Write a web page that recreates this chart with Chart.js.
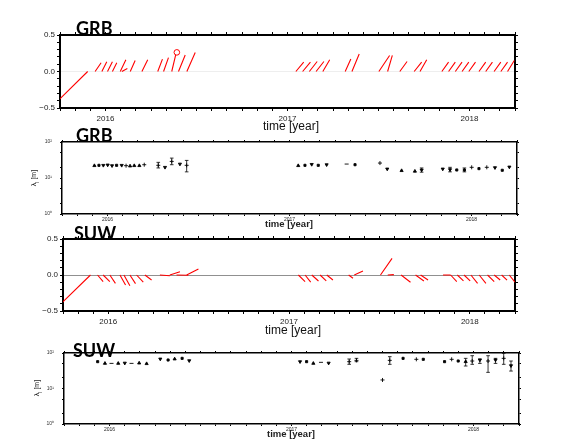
<!DOCTYPE html>
<html><head><meta charset="utf-8">
<script src="https://cdn.jsdelivr.net/npm/chart.js@4.4.1/dist/chart.umd.min.js"></script>
<style>
html,body{margin:0;padding:0;background:#fff;}
body{width:583px;height:446px;position:relative;overflow:hidden;font-family:"Liberation Sans",Arial,sans-serif;}
canvas{position:absolute;left:0;}
.title{position:absolute;font-family:Lato,"Open Sans","Noto Sans",sans-serif;font-weight:700;font-size:18px;line-height:1;color:#000;z-index:5;white-space:nowrap;}
.xt{position:absolute;font-size:12px;line-height:1;color:#111;z-index:5;white-space:nowrap;transform:translateX(-50%);}
.xs{position:absolute;font-size:9.5px;font-weight:700;line-height:1;color:#222;z-index:5;white-space:nowrap;transform:translateX(-50%);}
.yl{position:absolute;font-size:7px;line-height:1;color:#222;z-index:5;white-space:nowrap;transform:translate(-50%,-50%) rotate(-90deg);}
.yl sub{font-size:5px;}
</style>
</head><body>
<canvas id="c1" width="583" height="125" style="top:0px;width:583px;height:125px"></canvas>
<canvas id="c2" width="583" height="100" style="top:125px;width:583px;height:100px"></canvas>
<canvas id="c3" width="583" height="110" style="top:225px;width:583px;height:110px"></canvas>
<canvas id="c4" width="583" height="111" style="top:335px;width:583px;height:111px"></canvas>

<div class="title" style="left:76px;top:19px">GRB</div>
<div class="xt" style="left:291px;top:120px">time [year]</div>
<div class="title" style="left:76px;top:126px">GRB</div>
<div class="xs" style="left:289px;top:219px">time [year]</div>
<div class="yl" style="left:35px;top:178px">λ<sub>l</sub> [m]</div>
<div class="title" style="left:74px;top:224px">SUW</div>
<div class="xt" style="left:293px;top:324px">time [year]</div>
<div class="title" style="left:73px;top:341px">SUW</div>
<div class="xs" style="left:291px;top:429px">time [year]</div>
<div class="yl" style="left:38px;top:388px">λ<sub>l</sub> [m]</div>

<script>
// ---------- data ----------
// GRB vectors: start time, tip time, tip value
const grbVecStart = [2015.902, 2015.943, 2015.980, 2016.011, 2016.038, 2016.090, 2016.081, 2016.136, 2016.200, 2016.287, 2016.319, 2016.364, 2016.401, 2016.447,
  2017.046, 2017.083, 2017.120, 2017.157, 2017.194, 2017.317, 2017.354, 2017.502, 2017.550, 2017.617, 2017.696, 2017.728,
  2017.848, 2017.885, 2017.922, 2017.959, 2017.996, 2018.052, 2018.089, 2018.135, 2018.172, 2018.209];
const grbVecEnd = [2015.600, 2015.976, 2016.007, 2016.038, 2016.062, 2016.120, 2016.112, 2016.163, 2016.232, 2016.313, 2016.346, 2016.386, 2016.438, 2016.493,
  2017.089, 2017.126, 2017.163, 2017.200, 2017.232, 2017.348, 2017.394, 2017.561, 2017.576, 2017.657, 2017.737, 2017.765,
  2017.885, 2017.922, 2017.959, 2017.996, 2018.033, 2018.089, 2018.126, 2018.172, 2018.209, 2018.246];
const grbVecVal = [-0.74, 0.12, 0.135, 0.135, 0.12, 0.04, 0.16, 0.15, 0.16, 0.17, 0.19, 0.23, 0.226, 0.26,
  0.128, 0.128, 0.137, 0.137, 0.16, 0.17, 0.24, 0.22, 0.22, 0.137, 0.128, 0.16,
  0.128, 0.128, 0.128, 0.128, 0.128, 0.128, 0.128, 0.128, 0.128, 0.15];
const grbCircle = [{x: 2016.392, y: 0.262}];

// SUW vectors
const suwVecStart = [2015.902, 2015.941, 2015.972, 2016.009, 2016.065, 2016.087, 2016.120, 2016.157, 2016.203, 2016.286, 2016.341, 2016.378, 2016.434,
  2017.052, 2017.089, 2017.126, 2017.172, 2017.209, 2017.330, 2017.361, 2017.506, 2017.546, 2017.620, 2017.700, 2017.728,
  2017.852, 2017.894, 2017.931, 2017.968, 2018.006, 2018.052, 2018.098, 2018.135, 2018.176, 2018.218];
const suwVecEnd = [2015.600, 2015.972, 2016.009, 2016.040, 2016.096, 2016.120, 2016.151, 2016.194, 2016.240, 2016.341, 2016.397, 2016.443, 2016.499,
  2017.089, 2017.120, 2017.163, 2017.206, 2017.243, 2017.354, 2017.409, 2017.570, 2017.580, 2017.672, 2017.746, 2017.769,
  2017.894, 2017.928, 2017.965, 2018.002, 2018.043, 2018.089, 2018.135, 2018.168, 2018.206, 2018.250];
const suwVecVal = [-0.74, -0.093, -0.093, -0.116, -0.139, -0.148, -0.12, -0.10, -0.07, -0.01, 0.046, -0.003, 0.083,
  -0.093, -0.10, -0.083, -0.083, -0.07, -0.046, 0.056, 0.23, 0.005, -0.10, -0.083, -0.07,
  0.0, -0.093, -0.083, -0.083, -0.116, -0.116, -0.093, -0.07, -0.07, -0.10];

// GRB lambda_l [m]
const grbLamT = [2015.928, 2015.953, 2015.977, 2016.001, 2016.025, 2016.050, 2016.078, 2016.102, 2016.124, 2016.147, 2016.175, 2016.202,
  2016.279, 2016.316, 2016.353, 2016.398, 2016.435,
  2017.048, 2017.085, 2017.122, 2017.158, 2017.204, 2017.314, 2017.360, 2017.497, 2017.537, 2017.616, 2017.689, 2017.726,
  2017.842, 2017.882, 2017.919, 2017.961, 2018.001, 2018.041, 2018.084, 2018.129, 2018.169, 2018.208];
const grbLamVal = [22.0, 22.5, 22.5, 23.0, 22.0, 22.5, 22.5, 22.0, 21.5, 22.0, 22.0, 23.4,
  22.5, 19.8, 28.9, 24.4, 22.5,
  22.0, 22.5, 23.9, 22.5, 23.4, 24.4, 23.4, 26.0, 17.8, 16.0, 15.4, 16.7,
  17.8, 17.1, 16.7, 16.7, 19.8, 18.2, 19.8, 19.4, 16.4, 20.2];
const grbLamLo = [null, null, null, null, null, null, null, null, null, null, null, null,
  19.0, null, 23.4, null, 14.8,
  null, null, null, null, null, null, null, null, null, null, null, 14.5,
  null, 14.8, null, 14.8, null, null, null, null, null, null];
const grbLamHi = [null, null, null, null, null, null, null, null, null, null, null, null,
  27.2, null, 35.7, null, 30.8,
  null, null, null, null, null, null, null, null, null, null, null, 19.0,
  null, 19.8, null, 19.0, null, null, null, null, null, null];

// SUW lambda_l [m]
const suwLamT = [2015.935, 2015.975, 2016.011, 2016.048, 2016.084, 2016.121, 2016.163, 2016.204, 2016.279, 2016.322, 2016.358, 2016.399, 2016.438,
  2017.047, 2017.083, 2017.120, 2017.162, 2017.204, 2017.317, 2017.357, 2017.500, 2017.540, 2017.613, 2017.686, 2017.724,
  2017.841, 2017.880, 2017.916, 2017.957, 2017.993, 2018.035, 2018.080, 2018.121, 2018.166, 2018.206];
const suwLamVal = [57, 51, 51, 51, 52, 51, 52, 50, 67.8, 63.5, 67.8, 70.7, 60.8,
  57, 57, 51, 54.6, 52, 57, 62, 17.4, 62, 70.7, 66.4, 66.4,
  57, 66.4, 59.5, 57, 59.5, 63.5, 59.5, 63.5, 70.7, 44];
const suwLamLo = [null, null, null, null, null, null, null, null, null, null, null, null, null,
  null, null, null, null, null, 48, 57, null, 48, null, null, null,
  null, null, null, 43, 48, 51, 28.5, 51, 48, 31];
const suwLamHi = [null, null, null, null, null, null, null, null, null, null, null, null, null,
  null, null, null, null, null, 67.8, 70.7, null, 78.8, null, null, null,
  null, null, null, 70.7, 84, 67.8, 84, 70.7, 98, 59.5];

// marker shape codes (styling)
const grbShape = ['up','sq','down','down','down','sq','down','plus','up','up','up','plus',
  'plus','down','plus','down','plus',
  'up','sq','down','sq','down','dash','sq','plus','down','up','up','down',
  'down','down','sq','sq','plus','sq','plus','down','sq','down'];
const suwShape = ['sq','up','dash','up','down','dash','up','up','down','sq','up','sq','down',
  'down','sq','up','dash','down','plus','plus','plus','plus','sq','plus','sq',
  'sq','plus','sq','up','plus','down','plus','down','plus','down'];

const X_MIN = 2015.75, X_MAX = 2018.25;
const LOG_TICKS = [1, 2, 5, 10, 20, 50, 100];

// ---------- helpers ----------
const FONT = '"Liberation Sans", Arial, Helvetica, sans-serif';
Chart.defaults.font.family = FONT;
Chart.defaults.color = '#222';
Chart.defaults.animation = false;

const isYear = v => Math.abs(v - Math.round(v)) < 1e-6;

function sticks(start, end, val) {
  const pts = [];
  for (let i = 0; i < start.length; i++) {
    pts.push({x: start[i], y: 0}, {x: end[i], y: val[i]}, {x: end[i], y: null});
  }
  return pts;
}
function bars(t, lo, hi) {
  const pts = [];
  for (let i = 0; i < t.length; i++) {
    if (lo[i] == null) continue;
    pts.push({x: t[i], y: lo[i]}, {x: t[i], y: hi[i]}, {x: t[i], y: null});
  }
  return pts;
}
const SHAPES = {
  up: {style: 'triangle', rot: 0, r: 1.8},
  down: {style: 'triangle', rot: 180, r: 1.8},
  sq: {style: 'rect', rot: 0, r: 1.5},
  plus: {style: 'cross', rot: 0, r: 2.0},
  dash: {style: 'line', rot: 0, r: 2.0}
};

function xScales(h, labelSize, tl, pad, bw) {
  const base = {
    type: 'linear', min: X_MIN, max: X_MAX,
    grid: {drawOnChartArea: false, drawTicks: true, tickLength: tl, tickColor: '#000', tickWidth: 1},
    border: {display: true, color: '#000', width: bw}
  };
  return {
    x: Object.assign({}, base, {
      position: 'bottom',
      ticks: {stepSize: 1 / 12, autoSkip: false, maxRotation: 0, padding: pad, color: '#222',
        font: {size: labelSize}, callback: v => isYear(v) ? String(Math.round(v)) : ''},
      afterFit: s => { s.height = h; }
    }),
    x2: Object.assign({}, base, {
      position: 'top',
      ticks: {stepSize: 1 / 12, autoSkip: false, display: false},
      afterFit: s => { s.height = 0; }
    })
  };
}

function vecChart(id, start, end, val, g, extra) {
  const yBase = {
    type: 'linear', min: -0.5, max: 0.5,
    border: {display: true, color: '#000', width: 2}
  };
  const scales = Object.assign(xScales(g.xh, 8, 3, 3, 2), {
    y: Object.assign({}, yBase, {
      position: 'left',
      ticks: {stepSize: 0.1, autoSkip: false, padding: 2, color: '#222', font: {size: 8},
        callback: v => Math.abs(v - 0.5) < 1e-6 ? '0.5' : Math.abs(v) < 1e-6 ? '0.0' : Math.abs(v + 0.5) < 1e-6 ? '\u22120.5' : ''},
      grid: {drawOnChartArea: true, lineWidth: 1, tickLength: 3, tickColor: '#000',
        color: c => (c.tick && Math.abs(c.tick.value) < 1e-6) ? g.zero : 'rgba(0,0,0,0)'},
      afterFit: s => { s.width = g.left; }
    }),
    y2: Object.assign({}, yBase, {
      position: 'right',
      ticks: {stepSize: 0.1, autoSkip: false, display: false},
      grid: {drawOnChartArea: false, tickLength: 3, tickColor: '#000'},
      afterFit: s => { s.width = g.right; }
    })
  });
  const datasets = [{
    data: sticks(start, end, val), xAxisID: 'x', yAxisID: 'y',
    borderColor: '#ff0000', borderWidth: 1.1, pointRadius: 0, spanGaps: false, tension: 0, showLine: true
  }];
  if (extra) datasets.push(extra);
  new Chart(document.getElementById(id), {
    type: 'line',
    data: {datasets},
    options: {
      responsive: false, animation: false, parsing: true,
      layout: {padding: {top: g.top, left: 0, right: 0, bottom: 0}},
      plugins: {legend: {display: false}, tooltip: {enabled: false}},
      events: [],
      scales
    }
  });
}

function lamChart(id, t, val, lo, hi, shape, g) {
  const yBase = {
    type: 'logarithmic', min: 1, max: 100,
    afterBuildTicks: s => { s.ticks = LOG_TICKS.map(v => ({value: v})); },
    border: {display: true, color: '#000', width: 1.5}
  };
  const scales = Object.assign(xScales(g.xh, 5, 2, 1, 1.5), {
    y: Object.assign({}, yBase, {
      position: 'left',
      ticks: {autoSkip: false, padding: 8, color: '#333', font: {size: 5},
        callback: v => v === 1 ? '10\u2070' : v === 10 ? '10\u00B9' : v === 100 ? '10\u00B2' : ''},
      grid: {drawOnChartArea: false, tickLength: 2, tickColor: '#000'},
      afterFit: s => { s.width = g.left; }
    }),
    y2: Object.assign({}, yBase, {
      position: 'right',
      ticks: {display: false},
      grid: {drawOnChartArea: false, tickLength: 2, tickColor: '#000'},
      afterFit: s => { s.width = g.right; }
    })
  });
  const pts = t.map((x, i) => ({x, y: val[i]}));
  new Chart(document.getElementById(id), {
    type: 'line',
    data: {datasets: [
      {
        data: bars(t, lo, hi), xAxisID: 'x', yAxisID: 'y', showLine: true, spanGaps: false,
        borderColor: '#000', borderWidth: 0.8, pointStyle: 'line',
        pointRadius: c => (c.raw && c.raw.y != null) ? 1.8 : 0,
        pointBorderColor: '#000', pointBorderWidth: 0.8
      },
      {
        data: pts, xAxisID: 'x', yAxisID: 'y', showLine: false,
        pointStyle: c => SHAPES[shape[c.dataIndex]].style,
        pointRotation: c => SHAPES[shape[c.dataIndex]].rot,
        pointRadius: c => SHAPES[shape[c.dataIndex]].r,
        pointBackgroundColor: '#000', pointBorderColor: '#000', pointBorderWidth: 0.9
      }
    ]},
    options: {
      responsive: false, animation: false,
      layout: {padding: {top: g.top, left: 0, right: 0, bottom: 0}},
      plugins: {legend: {display: false}, tooltip: {enabled: false}},
      events: [],
      scales
    }
  });
}

// ---------- charts ----------
vecChart('c1', grbVecStart, grbVecEnd, grbVecVal, {top: 35, xh: 17, left: 60, right: 68, zero: '#eeeeee'}, {
  data: grbCircle, xAxisID: 'x', yAxisID: 'y', showLine: false, pointStyle: 'circle',
  pointRadius: 2.8, pointBorderColor: '#ff0000', pointBackgroundColor: 'rgba(0,0,0,0)', pointBorderWidth: 1
});
lamChart('c2', grbLamT, grbLamVal, grbLamLo, grbLamHi, grbShape, {top: 17, xh: 10, left: 62, right: 66});
vecChart('c3', suwVecStart, suwVecEnd, suwVecVal, {top: 14, xh: 24, left: 63, right: 68, zero: '#909090'});
lamChart('c4', suwLamT, suwLamVal, suwLamLo, suwLamHi, suwShape, {top: 18, xh: 22, left: 64, right: 64});
</script>
</body></html>
